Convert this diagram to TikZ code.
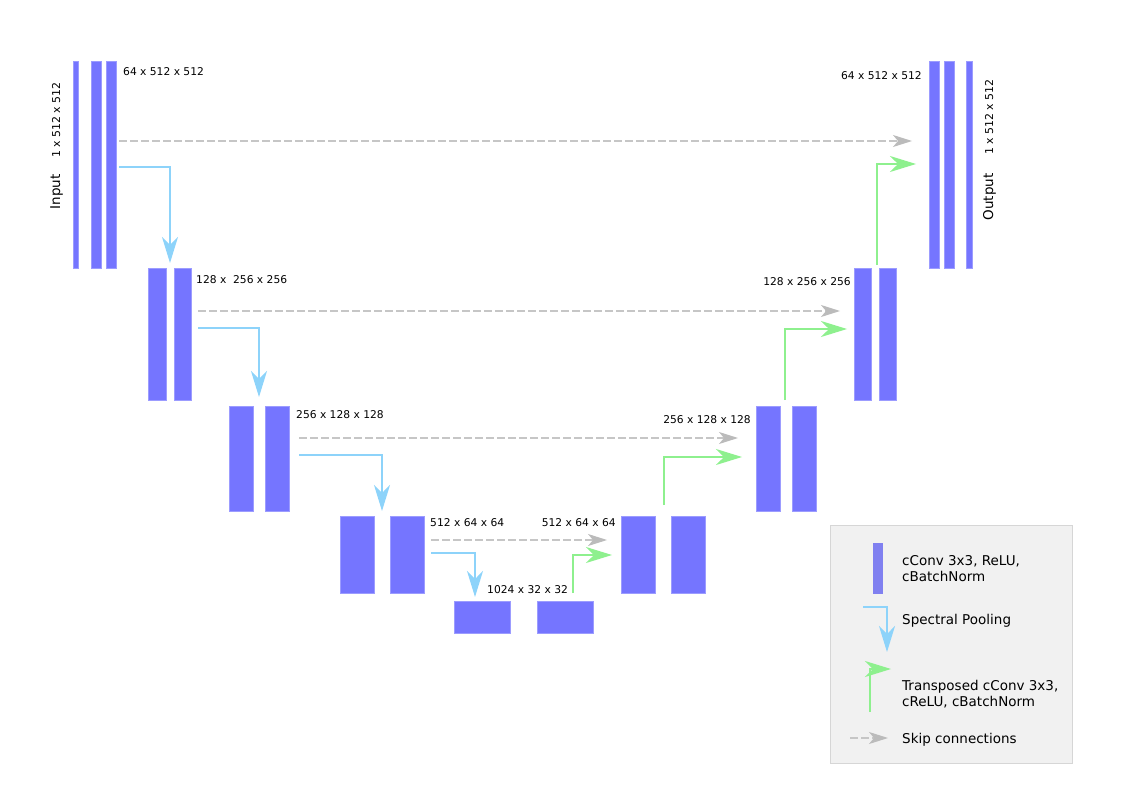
\documentclass[tikz,border=0pt]{standalone}
\usepackage{fontspec}
\setmainfont{DejaVu Sans}
\usetikzlibrary{arrows.meta}
\definecolor{barc}{HTML}{7575FF}
\definecolor{barline}{HTML}{9C9CFF}
\definecolor{legbar}{HTML}{8080F0}
\definecolor{poolc}{HTML}{8DD3FA}
\definecolor{upc}{HTML}{8EF08E}
\definecolor{skipc}{HTML}{C6C6C6}
\definecolor{skiphead}{HTML}{BBBBBB}
\definecolor{legfill}{HTML}{F1F1F1}
\definecolor{legline}{HTML}{D6D6D6}
\begin{document}
\begin{tikzpicture}[x=1pt,y=1pt,
  bar/.style={fill=barc,draw=barline,line width=0.6pt,inner sep=0,outer sep=0},
  dimlab/.style={inner sep=0,font=\fontsize{10.7}{12}\selectfont},
  iolab/.style={inner sep=0,rotate=90,anchor=base,font=\fontsize{13.5}{15}\selectfont},
  iodim/.style={inner sep=0,rotate=90,anchor=base,font=\fontsize{10.9}{12}\selectfont},
  legtext/.style={inner sep=0,anchor=base west,font=\fontsize{13.5}{16}\selectfont},
  pool/.style={draw=poolc,line width=1.5pt,-{Stealth[length=26pt,width=16pt,inset=8pt]}},
  upconv/.style={draw=upc,line width=1.5pt,-{Stealth[length=26pt,width=16pt,inset=8pt]}},
  skip/.style={draw=skipc,line width=1.2pt,dash pattern=on 8pt off 3pt,-{Stealth[length=19pt,width=12pt,inset=5pt,color=skiphead]}}]
\useasboundingbox (0,0) rectangle (1123,-794);

% ---- bars, left side
\node[bar,minimum width=5pt,minimum height=207pt] (L1a) at (75.5,-164.5) {};
\node[bar,minimum width=10pt,minimum height=207pt] (L1b) at (96,-164.5) {};
\node[bar,minimum width=10pt,minimum height=207pt] (L1c) at (111,-164.5) {};
\node[bar,minimum width=18pt,minimum height=132pt] (L2a) at (157,-334) {};
\node[bar,minimum width=17pt,minimum height=132pt] (L2b) at (182.5,-334) {};
\node[bar,minimum width=24pt,minimum height=105pt] (L3a) at (241,-458.5) {};
\node[bar,minimum width=24pt,minimum height=105pt] (L3b) at (277,-458.5) {};
\node[bar,minimum width=34pt,minimum height=77pt] (L4a) at (357,-554.5) {};
\node[bar,minimum width=34pt,minimum height=77pt] (L4b) at (407,-554.5) {};
% ---- bottom
\node[bar,minimum width=56pt,minimum height=32pt] (B1) at (482,-617) {};
\node[bar,minimum width=56pt,minimum height=32pt] (B2) at (565,-617) {};
% ---- bars, right side
\node[bar,minimum width=34pt,minimum height=77pt] (R4a) at (638,-554.5) {};
\node[bar,minimum width=34pt,minimum height=77pt] (R4b) at (688,-554.5) {};
\node[bar,minimum width=24pt,minimum height=105pt] (R3a) at (768,-458.5) {};
\node[bar,minimum width=24pt,minimum height=105pt] (R3b) at (804,-458.5) {};
\node[bar,minimum width=17pt,minimum height=132pt] (R2a) at (862.5,-334) {};
\node[bar,minimum width=17pt,minimum height=132pt] (R2b) at (887.5,-334) {};
\node[bar,minimum width=10pt,minimum height=207pt] (R1a) at (934,-164.5) {};
\node[bar,minimum width=10pt,minimum height=207pt] (R1b) at (949,-164.5) {};
\node[bar,minimum width=6pt,minimum height=207pt] (R1c) at (969,-164.5) {};

% ---- dimension labels
\node[dimlab,anchor=base west] (t1l) at (123,-76) {64 x 512 x 512};
\node[dimlab,anchor=base west] (t2l) at (196,-283) {128 x \ 256 x 256};
\node[dimlab,anchor=base west] (t3l) at (296,-418) {256 x 128 x 128};
\node[dimlab,anchor=base west] (t4l) at (430,-526) {512 x 64 x 64};
\node[dimlab,anchor=base west] (tb) at (487,-593) {1024 x 32 x 32};
\node[dimlab,anchor=base east] (t4r) at (616,-526) {512 x 64 x 64};
\node[dimlab,anchor=base east] (t3r) at (751,-423) {256 x 128 x 128};
\node[dimlab,anchor=base east] (t2r) at (851,-285) {128 x 256 x 256};
\node[dimlab,anchor=base east] (t1r) at (922,-80) {64 x 512 x 512};

% ---- input / output
\node[iolab] (inlab) at (60,-192) {Input};
\node[iodim] (indim) at (60,-120) {1 x 512 x 512};
\node[iolab] (outlab) at (993,-197) {Output};
\node[iodim] (outdim) at (993,-117) {1 x 512 x 512};

% ---- connector end points
\coordinate (s1a) at (119,-141); \coordinate (s1b) at (912,-141);
\coordinate (s2a) at (198,-311); \coordinate (s2b) at (840,-311);
\coordinate (s3a) at (299,-438); \coordinate (s3b) at (738,-438);
\coordinate (s4a) at (431,-540); \coordinate (s4b) at (607,-540);
\coordinate (p1a) at (119,-167); \coordinate (p1b) at (170,-263);
\coordinate (p2a) at (198,-328); \coordinate (p2b) at (259,-397);
\coordinate (p3a) at (299,-455); \coordinate (p3b) at (382,-511);
\coordinate (p4a) at (431,-553); \coordinate (p4b) at (475,-597);
\coordinate (u4a) at (573,-593); \coordinate (u4b) at (612,-555);
\coordinate (u3a) at (664,-505); \coordinate (u3b) at (742,-457);
\coordinate (u2a) at (785,-400); \coordinate (u2b) at (847,-329);
\coordinate (u1a) at (877,-265); \coordinate (u1b) at (916,-164);

\draw[skip] (s1a) -- (s1b);
\draw[skip] (s2a) -- (s2b);
\draw[skip] (s3a) -- (s3b);
\draw[skip] (s4a) -- (s4b);
\draw[pool] (p1a) -| (p1b);
\draw[pool] (p2a) -| (p2b);
\draw[pool] (p3a) -| (p3b);
\draw[pool] (p4a) -| (p4b);
\draw[upconv] (u4a) |- (u4b);
\draw[upconv] (u3a) |- (u3b);
\draw[upconv] (u2a) |- (u2b);
\draw[upconv] (u1a) |- (u1b);

% ---- legend
\node[fill=legfill,draw=legline,line width=1pt,inner sep=0,minimum width=242pt,minimum height=238pt] (legend) at (951,-644) {};
\node[fill=legbar,inner sep=0,minimum width=10pt,minimum height=51pt] (legbarn) at (878,-568.5) {};
\node[legtext] (lt1) at (902,-565) {cConv 3x3, ReLU,};
\node[legtext] (lt1b) at (902,-581) {cBatchNorm};
\coordinate (lpa) at (863,-607); \coordinate (lpb) at (887,-652);
\draw[pool] (lpa) -| (lpb);
\node[legtext] (lt2) at (902,-624) {Spectral Pooling};
\coordinate (lua) at (870,-712); \coordinate (lub) at (891,-669);
\draw[upconv] (lua) |- (lub);
\node[legtext] (lt3) at (902,-690) {Transposed cConv 3x3,};
\node[legtext] (lt3b) at (902,-706) {cReLU, cBatchNorm};
\coordinate (lsa) at (850,-738); \coordinate (lsb) at (888,-738);
\draw[skip] (lsa) -- (lsb);
\node[legtext] (lt4) at (902,-743) {Skip connections};
\end{tikzpicture}
\end{document}
